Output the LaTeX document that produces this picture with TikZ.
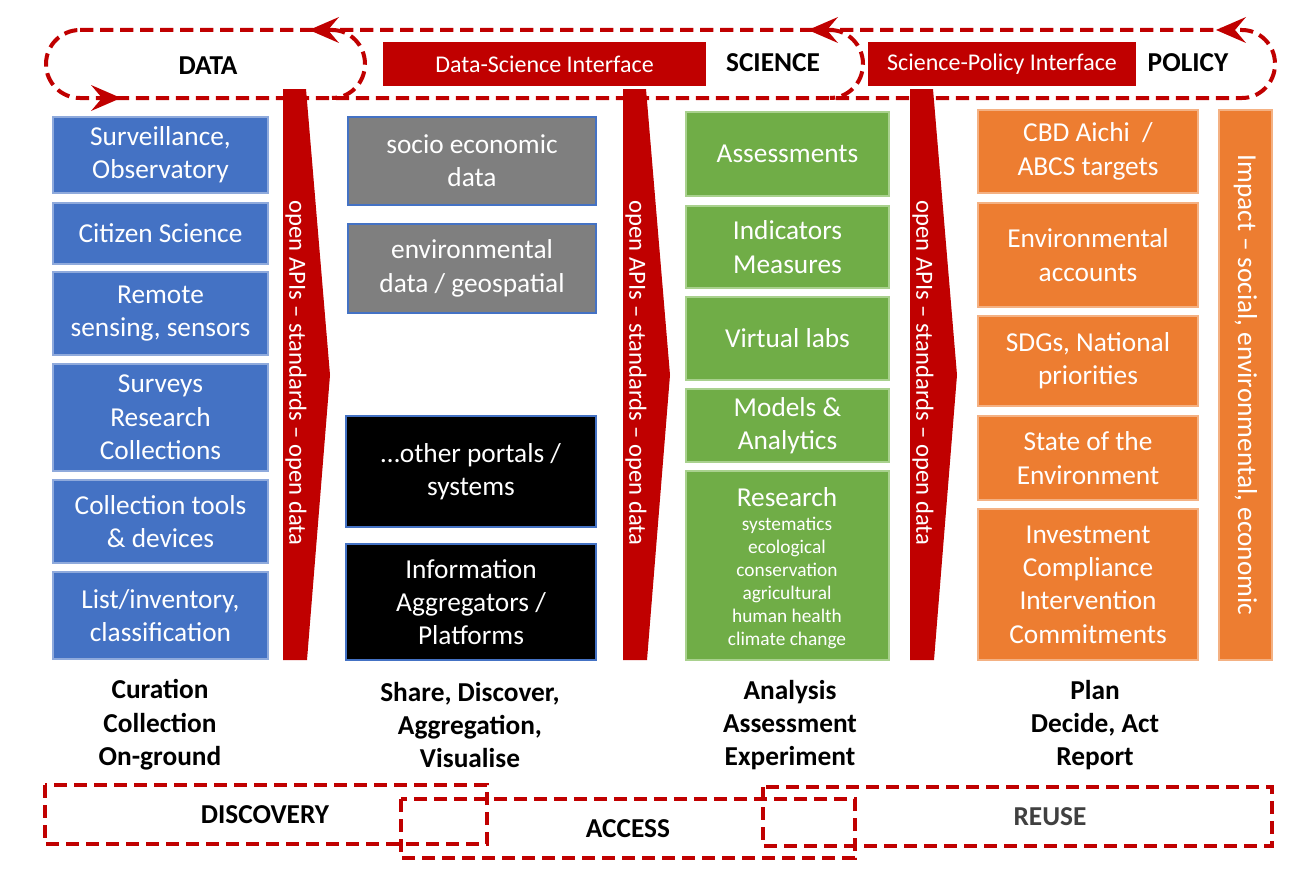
\documentclass[tikz,border=0pt]{standalone}
\usepackage{fontspec}
\setmainfont{Carlito}
\definecolor{dred}{HTML}{C00000}
\definecolor{mblue}{HTML}{4472C4}
\definecolor{lblue}{HTML}{8FAADC}
\definecolor{mgray}{HTML}{7F7F7F}
\definecolor{mgreen}{HTML}{70AD47}
\definecolor{lgreen}{HTML}{A9D18E}
\definecolor{morange}{HTML}{ED7D31}
\definecolor{lorange}{HTML}{F4B183}
\definecolor{dgray}{HTML}{404040}
\newcommand\mybox[7]{\node[#1, minimum width={(#5-#3)*0.75pt}, minimum height={(#6-#4)*0.75pt}] (#2) at ({(#3+#5)/2},{(#4+#6)/2}) {#7};}
\tikzset{
  boxbase/.style={inner sep=0pt, align=center, text=white, font=\fontsize{20.5}{25}\selectfont, line width=0.8pt},
  bluebox/.style={boxbase, fill=mblue, draw=lblue},
  graybox/.style={boxbase, fill=mgray, draw=mblue, line width=1.3pt},
  blackbox/.style={boxbase, fill=black, draw=mblue, line width=1.3pt},
  greenbox/.style={boxbase, fill=mgreen, draw=lgreen},
  orangebox/.style={boxbase, fill=morange, draw=lorange},
  ifbox/.style={boxbase, fill=dred, font=\fontsize{18}{22}\selectfont},
  heading/.style={font=\fontsize{20.5}{25}\selectfont\bfseries, text=black},
  dloop/.style={draw=dred, line width=3pt, dash pattern=on 10pt off 5pt},
  dzone/.style={draw=dred, line width=3.2pt, dash pattern=on 10pt off 5pt},
  steplabel/.style={align=center, font=\fontsize{20.5}{25}\selectfont\bfseries, text=black},
  zonelabel/.style={font=\fontsize{20.5}{25}\selectfont\bfseries},
  vtext/.style={rotate=-90, text=white, font=\fontsize{18.5}{22}\selectfont},
}
\begin{document}
\begin{tikzpicture}[x=0.75pt,y=-0.75pt]
\useasboundingbox[fill=white] (0,0) rectangle (1312,892);

% top dashed loop
\draw[dloop] (80,30) -- (1242,30) arc[start angle=90, end angle=-90, x radius=24.75pt, y radius=25.5pt] -- (80,98) arc[start angle=-90, end angle=-270, radius=25.5pt];
\draw[dloop] (332,30) arc[start angle=90, end angle=-90, x radius=24.75pt, y radius=25.5pt];
\draw[dloop] (830,30) arc[start angle=90, end angle=-90, x radius=24.75pt, y radius=25.5pt];

% arrowheads on the loop
\coordinate (t1) at (309,30);
\coordinate (t2) at (808,30);
\coordinate (t3) at (1216,30);
\coordinate (t4) at (121,98);
\foreach \t in {t1,t2,t3}{\fill[dred] (\t) -- ++(30,-13) -- ++(-11,13) -- ++(11,13) -- cycle;}
\fill[dred] (t4) -- ++(-30,-13) -- ++(11,13) -- ++(-11,13) -- cycle;

% interface boxes and headings
\mybox{ifbox}{dsi}{383}{42}{706}{86}{Data-Science Interface}
\mybox{ifbox}{spi}{868}{42}{1136}{86}{Science-Policy Interface}
\node[heading] (data) at (208,66) {DATA};
\node[heading] (science) at (773,63) {SCIENCE};
\node[heading] (policy) at (1188,63) {POLICY};

% vertical red arrows
\foreach \x/\n in {283/1,623/2,910/3}{
  \fill[dred] (\x,89) -- (\x+23,89) -- (\x+47,375) -- (\x+24,660) -- (\x,660) -- cycle;
  \node[vtext] (arr\n) at (\x+13,373) {open APIs – standards – open data};
}

% column 1
\mybox{bluebox}{b1}{53}{117}{268}{193}{Surveillance,\\Observatory}
\mybox{bluebox}{b2}{53}{203}{268}{264}{Citizen Science}
\mybox{bluebox}{b3}{53}{272}{268}{355}{Remote\\sensing, sensors}
\mybox{bluebox}{b4}{53}{364}{268}{471}{Surveys\\Research\\Collections}
\mybox{bluebox}{b5}{53}{480}{268}{563}{Collection tools\\\& devices}
\mybox{bluebox}{b6}{53}{572}{268}{659}{List/inventory,\\classification}

% column 2
\mybox{graybox}{g1}{348}{117}{596}{205}{socio economic\\data}
\mybox{graybox}{g2}{348}{224}{596}{313}{environmental\\data / geospatial}
\mybox{blackbox}{k1}{346}{416}{596}{527}{…other portals /\\systems}
\mybox{blackbox}{k2}{346}{544}{596}{660}{Information\\Aggregators /\\Platforms}

% column 3
\mybox{greenbox}{s1}{686}{112}{889}{196}{Assessments}
\mybox{greenbox}{s2}{686}{206}{889}{288}{Indicators\\Measures}
\mybox{greenbox}{s3}{686}{297}{889}{380}{Virtual labs}
\mybox{greenbox}{s4}{686}{389}{889}{462}{Models \&\\Analytics}
\mybox{greenbox}{s5}{686}{471}{889}{660}{}
\node[text=white, font=\fontsize{20.5}{25}\selectfont] (research) at (787,497) {Research};
\node[text=white, align=center, font=\fontsize{14.5}{17.3}\selectfont] (rlist) at (787,583) {systematics\\ecological\\conservation\\agricultural\\human health\\climate change};

% column 4
\mybox{orangebox}{p1}{978}{110}{1198}{193}{CBD Aichi~ /\\ABCS targets}
\mybox{orangebox}{p2}{978}{203}{1198}{307}{Environmental\\accounts}
\mybox{orangebox}{p3}{978}{316}{1198}{406}{SDGs, National\\priorities}
\mybox{orangebox}{p4}{978}{416}{1198}{500}{State of the\\Environment}
\mybox{orangebox}{p5}{978}{509}{1198}{660}{Investment\\Compliance\\Intervention\\Commitments}
\mybox{orangebox}{imp}{1219}{110}{1272}{660}{}
\node[vtext, font=\fontsize{20.5}{25}\selectfont] (impact) at (imp.center) {Impact – social, environmental, economic};

% step labels
\node[steplabel] (l1) at (160,725) {Curation\\Collection\\On-ground};
\node[steplabel] (l2) at (470,725) {Share, Discover,\\Aggregation,\\Visualise};
\node[steplabel] (l3) at (790,725) {Analysis\\Assessment\\Experiment};
\node[steplabel] (l4) at (1095,725) {Plan\\Decide, Act\\Report};

% bottom zones
\draw[dzone] (45,785) rectangle (487,844);
\draw[dzone] (401,799) rectangle (855,858);
\draw[dzone] (763,787) rectangle (1272,846);
\node[zonelabel, text=black] (disc) at (265,815) {DISCOVERY};
\node[zonelabel, text=black] (acc) at (628,829) {ACCESS};
\node[zonelabel, text=dgray] (reuse) at (1050,817) {REUSE};
\end{tikzpicture}
\end{document}
